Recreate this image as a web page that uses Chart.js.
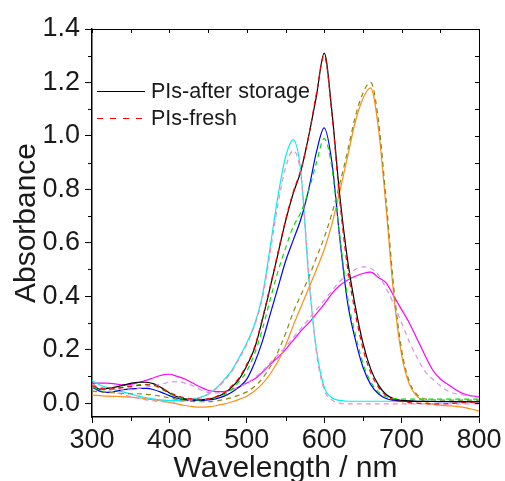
<!DOCTYPE html>
<html>
<head>
<meta charset="utf-8">
<script src="https://cdn.jsdelivr.net/npm/chart.js@4.4.1/dist/chart.umd.min.js"></script>
<style>
  body { margin: 0; background: #fff; }
  canvas { display: block; }
</style>
</head>
<body>
<canvas id="absChart" width="505" height="481"></canvas>
<script>
/* ==========================
   DATA (absorbance, 10 nm steps)
========================== */
const wavelengths = [];
for (let w = 300; w <= 800; w += 10) wavelengths.push(w);

const xTicks = [300, 400, 500, 600, 700, 800];
const yTicks = [0.0, 0.2, 0.4, 0.6, 0.8, 1.0, 1.2, 1.4];

// sample A (black / red)
const aStored = [0.075,0.052,0.055,0.060,0.067,0.074,0.078,0.078,0.072,0.057,
                 0.038,0.024,0.016,0.012,0.012,0.015,0.022,0.035,0.058,0.090,
                 0.140,0.205,0.310,0.430,0.555,0.680,0.785,0.870,1.000,1.150,
                 1.310,1.090,0.780,0.540,0.365,0.225,0.128,0.068,0.032,0.016,
                 0.010,0.008,0.007,0.007,0.006,0.006,0.006,0.005,0.005,0.005,0.005];
const aFresh  = [0.065,0.055,0.052,0.055,0.058,0.062,0.066,0.068,0.066,0.055,
                 0.040,0.028,0.020,0.016,0.014,0.016,0.024,0.038,0.062,0.095,
                 0.145,0.210,0.315,0.435,0.560,0.685,0.790,0.875,1.000,1.160,
                 1.300,1.080,0.760,0.510,0.340,0.205,0.115,0.060,0.028,0.012,
                 0.006,0.002,0.000,-0.002,-0.003,-0.003,-0.002,0.000,0.002,0.003,0.004];

// sample B (blue / green)
const bStored = [0.060,0.045,0.040,0.044,0.050,0.053,0.055,0.055,0.050,0.040,
                 0.028,0.018,0.012,0.010,0.010,0.012,0.016,0.025,0.040,0.060,
                 0.090,0.150,0.230,0.330,0.430,0.530,0.610,0.690,0.800,0.940,
                 1.030,0.900,0.620,0.380,0.240,0.135,0.070,0.035,0.017,0.010,
                 0.008,0.007,0.006,0.006,0.006,0.005,0.005,0.005,0.005,0.005,0.005];
const bFresh  = [0.062,0.050,0.050,0.055,0.060,0.064,0.068,0.070,0.066,0.052,
                 0.036,0.024,0.016,0.013,0.012,0.015,0.020,0.030,0.050,0.080,
                 0.120,0.185,0.275,0.385,0.490,0.580,0.660,0.715,0.795,0.900,
                 0.990,0.880,0.630,0.400,0.260,0.150,0.080,0.042,0.024,0.017,
                 0.015,0.015,0.015,0.015,0.015,0.015,0.015,0.015,0.015,0.015,0.015];

// sample C (cyan / pink)
const cStored = [0.085,0.068,0.058,0.050,0.042,0.034,0.026,0.020,0.015,0.012,
                 0.010,0.010,0.012,0.016,0.022,0.034,0.055,0.085,0.120,0.170,
                 0.225,0.295,0.400,0.580,0.770,0.920,0.985,0.860,0.470,0.200,
                 0.060,0.020,0.010,0.007,0.007,0.007,0.007,0.007,0.007,0.007,
                 0.007,0.007,0.007,0.007,0.007,0.007,0.007,0.007,0.007,0.007,0.007];
const cFresh  = [0.072,0.058,0.048,0.040,0.032,0.024,0.018,0.012,0.008,0.005,
                 0.004,0.005,0.008,0.012,0.020,0.032,0.052,0.080,0.115,0.165,
                 0.220,0.290,0.390,0.560,0.740,0.880,0.945,0.850,0.490,0.190,
                 0.050,0.012,0.000,-0.003,-0.003,-0.003,-0.003,-0.003,-0.003,-0.003,
                 -0.003,-0.003,-0.003,-0.003,-0.003,-0.003,-0.003,-0.003,-0.003,-0.003,-0.003];

// sample D (orange / olive)
const dStored = [0.030,0.028,0.026,0.025,0.024,0.022,0.020,0.016,0.012,0.008,
                 0.003,-0.003,-0.009,-0.013,-0.015,-0.014,-0.010,-0.004,0.004,0.014,
                 0.026,0.045,0.072,0.108,0.155,0.215,0.290,0.360,0.430,0.500,
                 0.575,0.670,0.790,0.920,1.050,1.140,1.180,1.030,0.730,0.400,
                 0.180,0.070,0.025,0.006,-0.004,-0.008,-0.010,-0.012,-0.016,-0.022,-0.030];
const dFresh  = [0.045,0.042,0.040,0.038,0.036,0.035,0.035,0.033,0.030,0.025,
                 0.020,0.014,0.009,0.006,0.005,0.005,0.008,0.013,0.020,0.030,
                 0.042,0.062,0.092,0.135,0.190,0.260,0.340,0.405,0.470,0.545,
                 0.620,0.710,0.820,0.940,1.070,1.160,1.200,1.060,0.760,0.430,
                 0.200,0.080,0.032,0.016,0.012,0.011,0.011,0.011,0.011,0.011,0.011];

// sample E (magenta / violet)
const eStored = [0.075,0.075,0.075,0.072,0.068,0.070,0.077,0.085,0.095,0.105,
                 0.108,0.100,0.090,0.075,0.060,0.048,0.043,0.043,0.050,0.060,
                 0.075,0.090,0.115,0.145,0.170,0.200,0.235,0.270,0.300,0.335,
                 0.370,0.410,0.440,0.460,0.475,0.485,0.490,0.470,0.450,0.400,
                 0.350,0.300,0.240,0.180,0.125,0.090,0.070,0.050,0.035,0.027,0.023];
const eFresh  = [0.060,0.060,0.055,0.055,0.050,0.050,0.055,0.060,0.065,0.072,
                 0.078,0.080,0.075,0.065,0.050,0.040,0.038,0.040,0.048,0.060,
                 0.075,0.095,0.120,0.150,0.180,0.210,0.245,0.280,0.315,0.350,
                 0.385,0.420,0.455,0.480,0.500,0.510,0.505,0.480,0.430,0.370,
                 0.300,0.230,0.170,0.120,0.090,0.065,0.045,0.035,0.030,0.025,0.022];

/* ==========================
   SERIES
========================== */
function pts(vals) {
    return vals.map((v, i) => ({ x: wavelengths[i], y: v }));
}
function line(label, vals, color, dash) {
    return {
        label: label,
        data: pts(vals),
        borderColor: color,
        borderWidth: 1.2,
        borderDash: dash || [],
        pointRadius: 0,
        fill: false,
        cubicInterpolationMode: 'monotone'
    };
}

// dashed (fresh) first so they sit on top
const datasets = [
    line('A fresh', aFresh, '#ff0000', [5, 4]),
    line('B fresh', bFresh, '#00e000', [5, 4]),
    line('C fresh', cFresh, '#f08cc0', [5, 4]),
    line('D fresh', dFresh, '#8a8a10', [5, 4]),
    line('E fresh', eFresh, '#d890f0', [5, 4]),
    line('A after storage', aStored, '#000000'),
    line('B after storage', bStored, '#0000ff'),
    line('C after storage', cStored, '#00f0f0'),
    line('D after storage', dStored, '#ff8c1a'),
    line('E after storage', eStored, '#ff00ff')
];

const legendItems = [
    { text: 'PIs-after storage', color: '#000000', dash: [] },
    { text: 'PIs-fresh', color: '#ff0000', dash: [6, 7] }
];

const FONT = '"Liberation Sans", Arial, sans-serif';

/* ==========================
   FRAME, MINOR TICKS, LEGEND
========================== */
const frameTicks = {
    id: 'frameTicks',
    afterDraw(chart) {
        const { ctx, chartArea: a, scales: { x, y } } = chart;
        ctx.save();
        ctx.strokeStyle = '#000';
        ctx.lineWidth = 1;
        ctx.beginPath();
        ctx.moveTo(a.left, a.top + 0.5);
        ctx.lineTo(a.right + 0.5, a.top + 0.5);
        ctx.lineTo(a.right + 0.5, a.bottom);
        ctx.stroke();

        ctx.beginPath();
        for (let v = 300; v <= 800; v += 50) {
            const px = Math.round(x.getPixelForValue(v)) + 0.5;
            if (v % 100 !== 0) { ctx.moveTo(px, a.bottom); ctx.lineTo(px, a.bottom + 4); }
            ctx.moveTo(px, a.top); ctx.lineTo(px, a.top + 4);
        }
        for (let k = 0; k <= 14; k++) {
            const py = Math.round(y.getPixelForValue(k / 10)) + 0.5;
            if (k % 2 === 1) { ctx.moveTo(a.left, py); ctx.lineTo(a.left - 4, py); }
            ctx.moveTo(a.right, py); ctx.lineTo(a.right - 4, py);
        }
        ctx.stroke();

        // legend
        ctx.font = '21.5px ' + FONT;
        ctx.textBaseline = 'middle';
        ctx.fillStyle = '#1a1a1a';
        legendItems.forEach((it, i) => {
            const ly = Math.round(a.top + 62 + i * 27) + 0.5;
            ctx.strokeStyle = it.color;
            ctx.lineWidth = 1;
            ctx.setLineDash(it.dash);
            ctx.beginPath();
            ctx.moveTo(a.left + 5, ly);
            ctx.lineTo(a.left + 53, ly);
            ctx.stroke();
            ctx.setLineDash([]);
            ctx.fillText(it.text, a.left + 59, ly + 1);
        });
        ctx.restore();
    }
};

/* ==========================
   CHART
========================== */
new Chart(document.getElementById('absChart'), {
    type: 'line',
    data: { datasets: datasets },
    options: {
        responsive: false,
        animation: false,
        events: [],
        layout: { padding: { top: 29, right: 26, left: 0, bottom: 0 } },
        plugins: { legend: { display: false }, tooltip: { enabled: false } },
        scales: {
            x: {
                type: 'linear',
                min: 300, max: 800,
                afterBuildTicks: (axis) => { axis.ticks = xTicks.map(v => ({ value: v })); },
                afterFit: (axis) => { axis.height = 64; },
                grid: { drawOnChartArea: false, tickLength: 6, color: '#000', lineWidth: 1 },
                border: { color: '#000', width: 1.5 },
                ticks: {
                    autoSkip: false, maxRotation: 0, padding: 1,
                    color: '#1a1a1a', font: { family: FONT, size: 27 }
                },
                title: {
                    display: true, text: 'Wavelength / nm', color: '#1a1a1a',
                    font: { family: FONT, size: 30, lineHeight: 0.8 }, padding: 0
                }
            },
            y: {
                min: -0.052, max: 1.4,
                afterBuildTicks: (axis) => { axis.ticks = yTicks.map(v => ({ value: v })); },
                afterFit: (axis) => { axis.width = 92; },
                grid: { drawOnChartArea: false, tickLength: 7, color: '#000', lineWidth: 1 },
                border: { color: '#000', width: 1.5 },
                ticks: {
                    padding: 5, color: '#1a1a1a',
                    font: { family: FONT, size: 27 },
                    callback: (v) => v.toFixed(1)
                },
                title: {
                    display: true, text: 'Absorbance', color: '#1a1a1a',
                    font: { family: FONT, size: 30, lineHeight: 1.2 },
                    padding: { top: 9, bottom: 0 }
                }
            }
        }
    },
    plugins: [frameTicks]
});
</script>
</body>
</html>
